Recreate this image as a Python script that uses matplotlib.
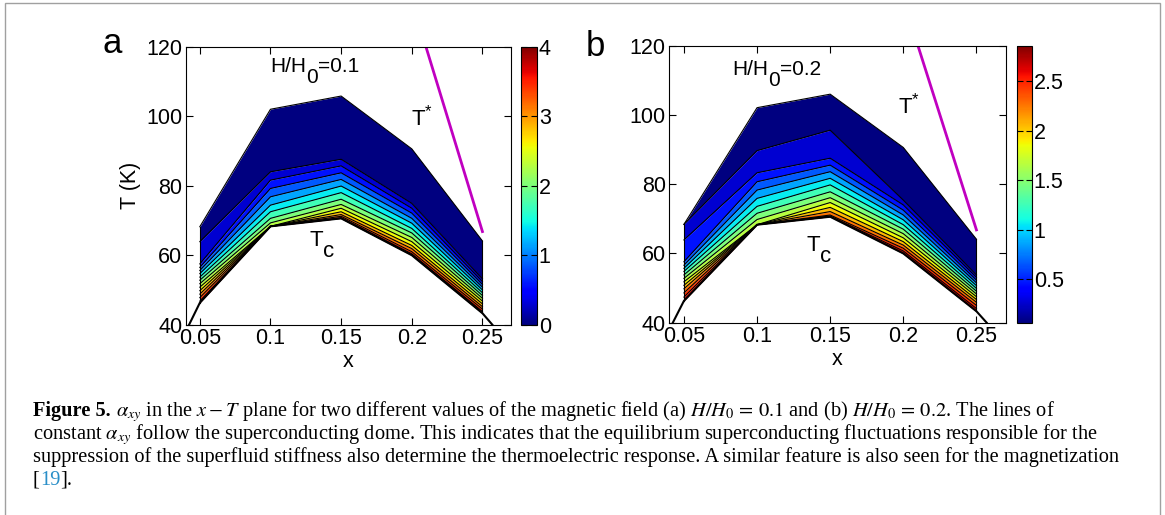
import numpy as np
import matplotlib
matplotlib.use("Agg")
import matplotlib.pyplot as plt
from matplotlib.colors import Normalize
from matplotlib.cm import ScalarMappable
from matplotlib.patches import Rectangle

plt.rcParams['font.family'] = ['Liberation Sans', 'DejaVu Sans']
plt.rcParams['mathtext.fontset'] = 'stix'

# doping columns of the grid
x_doping = [0.05, 0.1, 0.15, 0.2, 0.25]

# Tc dome (black line), including where it leaves the axes
tc_x = [0.0424, 0.05, 0.1, 0.15, 0.2, 0.25, 0.257]
tc_T = [40.0, 46.3, 68.3, 70.6, 60.0, 43.3, 40.0]

# T* line
tstar_x = [0.21, 0.25]
tstar_T = [120.0, 66.8]

# (a) H/H0 = 0.1 : temperature (K) where alpha_xy reaches each level, per doping column
levels_a = np.linspace(0, 4, 15)
iso_T_a = [
    [68.2, 102.0, 105.8, 90.6, 64.1],
    [63.9, 84.0, 87.6, 74.9, 53.2],
    [57.5, 81.6, 85.7, 73.5, 52.4],
    [56.5, 79.2, 83.7, 72.1, 51.6],
    [55.6, 76.8, 81.8, 70.6, 50.8],
    [54.7, 74.4, 79.9, 69.2, 50.0],
    [53.7, 72.5, 78.0, 67.7, 49.2],
    [52.8, 70.6, 76.1, 66.4, 48.4],
    [51.8, 69.3, 74.6, 65.1, 47.6],
    [50.8, 68.3, 73.5, 63.9, 46.8],
    [49.8, 68.3, 72.5, 62.8, 46.0],
    [48.8, 68.3, 71.7, 61.9, 45.2],
    [47.8, 68.3, 71.2, 61.0, 44.5],
    [46.8, 68.3, 70.8, 60.4, 43.8],
    [46.3, 68.3, 70.6, 60.0, 43.3],
]
cbar_ticks_a = [0, 1, 2, 3, 4]

# (b) H/H0 = 0.2
levels_b = np.linspace(0.06, 2.86, 15)
iso_T_b = [
    [68.4, 102.1, 106.0, 90.6, 64.1],
    [68.4, 89.7, 95.6, 75.4, 53.8],
    [63.9, 83.3, 87.5, 74.0, 53.1],
    [57.6, 80.7, 85.5, 72.5, 52.3],
    [56.6, 78.3, 83.6, 71.1, 51.5],
    [55.7, 75.9, 81.7, 69.7, 50.7],
    [54.8, 73.6, 79.8, 68.3, 49.9],
    [53.8, 71.6, 77.8, 67.0, 49.1],
    [52.8, 69.8, 76.1, 65.7, 48.3],
    [51.8, 68.3, 74.7, 64.5, 47.5],
    [50.8, 68.3, 73.3, 63.4, 46.7],
    [49.8, 68.3, 72.1, 62.4, 45.9],
    [48.6, 68.3, 71.1, 61.5, 45.0],
    [47.4, 68.3, 70.8, 60.7, 44.1],
    [46.3, 68.3, 70.6, 60.0, 43.3],
]
cbar_ticks_b = [0.5, 1, 1.5, 2, 2.5]

W, H = 1165, 515
fig = plt.figure(figsize=(W / 100, H / 100), dpi=100)
renderer = fig.canvas.get_renderer()


def px_box(left, top, right, bottom):
    return [left / W, 1 - bottom / H, (right - left) / W, (bottom - top) / H]


def rich_text(ax, x, y, pieces):
    # pieces: (text, fontsize, shift down in px), laid out left to right from a data point
    X0, Y0 = ax.transData.transform((x, y))
    for txt, size, dy in pieces:
        t = fig.text(X0 / W, (Y0 - dy) / H, txt, fontsize=size, va='baseline')
        X0 = t.get_window_extent(renderer).x1


def draw_panel(ax, cax, levels, iso_T, cticks, field_val, field_pos, tstar_pos, tc_pos):
    T = np.array(iso_T)
    norm = Normalize(levels[0], levels[-1])
    band_colors = plt.cm.jet(norm(levels[:-1]))
    for i in range(len(levels) - 1):
        ax.fill_between(x_doping, T[i + 1], T[i], color=band_colors[i], lw=0)
    for i in range(len(levels)):
        ax.plot(x_doping, T[i], color='k', lw=0.8)
    ax.plot([x_doping[0]] * 2, [T[0, 0], T[-1, 0]], color='k', lw=0.8)
    ax.plot([x_doping[-1]] * 2, [T[0, -1], T[-1, -1]], color='k', lw=0.8)

    ax.plot(tc_x, tc_T, color='k', lw=1.5)
    ax.plot(tstar_x, tstar_T, color='#c000c0', lw=2)

    ax.set_xlim(0.04, 0.27)
    ax.set_ylim(40, 120)
    ax.set_xticks(x_doping)
    ax.set_xticklabels(['0.05', '0.1', '0.15', '0.2', '0.25'])
    ax.set_yticks([40, 60, 80, 100, 120])
    ax.tick_params(direction='in', top=True, right=True, length=5,
                   labelsize=15.5, pad=2.5)
    ax.set_xlabel('x', fontsize=15.5, labelpad=1.5)
    for s in ax.spines.values():
        s.set_linewidth(0.8)

    rich_text(ax, *field_pos, [('H/H', 15, 0), ('0', 15, 11), ('=' + field_val, 15, 0)])
    rich_text(ax, *tstar_pos, [('T', 16, 0), ('*', 12, -9)])
    rich_text(ax, *tc_pos, [('T', 16, 0), ('c', 16, 11)])

    cb = fig.colorbar(ScalarMappable(norm=norm, cmap='jet'), cax=cax, ticks=cticks)
    cb.set_ticklabels(['%g' % t for t in cticks])
    cb.outline.set_linewidth(0.8)
    cax.tick_params(direction='in', left=True, right=True, length=4,
                    labelsize=15.5, pad=1.5)


ax_a = fig.add_axes(px_box(185.7, 46.7, 510.7, 324.7))
cax_a = fig.add_axes(px_box(521, 46.7, 536.7, 324.7))
ax_b = fig.add_axes(px_box(669.3, 45.7, 1005.7, 322.7))
cax_b = fig.add_axes(px_box(1016.7, 45.7, 1031.7, 322.7))

draw_panel(ax_a, cax_a, levels_a, iso_T_a, cbar_ticks_a, '0.1',
           (0.0997, 112.8), (0.1997, 97.5), (0.1273, 62.6))
draw_panel(ax_b, cax_b, levels_b, iso_T_b, cbar_ticks_b, '0.2',
           (0.0831, 111.5), (0.1964, 100.6), (0.1337, 60.8))
ax_a.set_ylabel('T (K)', fontsize=15.5)
ax_a.yaxis.set_label_coords(-0.1375, 0.5)

# panel letters
fig.text(103 / W, 1 - 53 / H, 'a', fontsize=25, va='baseline')
fig.text(586 / W, 1 - 56.5 / H, 'b', fontsize=25, va='baseline')

# frame around the figure
fig.patches.append(Rectangle((5 / W, -0.05), 1155 / W, 1.05 - 3.3 / H,
                             transform=fig.transFigure, fill=False,
                             edgecolor='#a0a0a0', lw=1))

# caption
cap = dict(family=['Liberation Serif', 'DejaVu Serif'], fontsize=14.7, va='baseline')


def caption_line(y_px, pieces):
    x = 33 / W
    for txt, kw in pieces:
        t = fig.text(x, 1 - y_px / H, txt, **cap, **kw)
        x = t.get_window_extent(renderer).x1 / W


caption_line(416, [('Figure 5.', dict(weight='bold')),
                   (r' $\alpha_{xy}$ in the $x-T$ plane for two different values of the magnetic field '
                    r'(a) $H/H_0\,=\,0.1$ and (b) $H/H_0\,=\,0.2$. The lines of', {})])
caption_line(439, [(r'constant $\alpha_{xy}$ follow the superconducting dome. This indicates that the '
                    r'equilibrium superconducting fluctuations responsible for the', {})])
caption_line(462, [('suppression of the superfluid stiffness also determine the thermoelectric '
                    'response. A similar feature is also seen for the magnetization', {})])
caption_line(485, [('[', {}), ('19', dict(color='#2a8fc8')), (('].'), {})])

fig.savefig('out.png', dpi=100)
